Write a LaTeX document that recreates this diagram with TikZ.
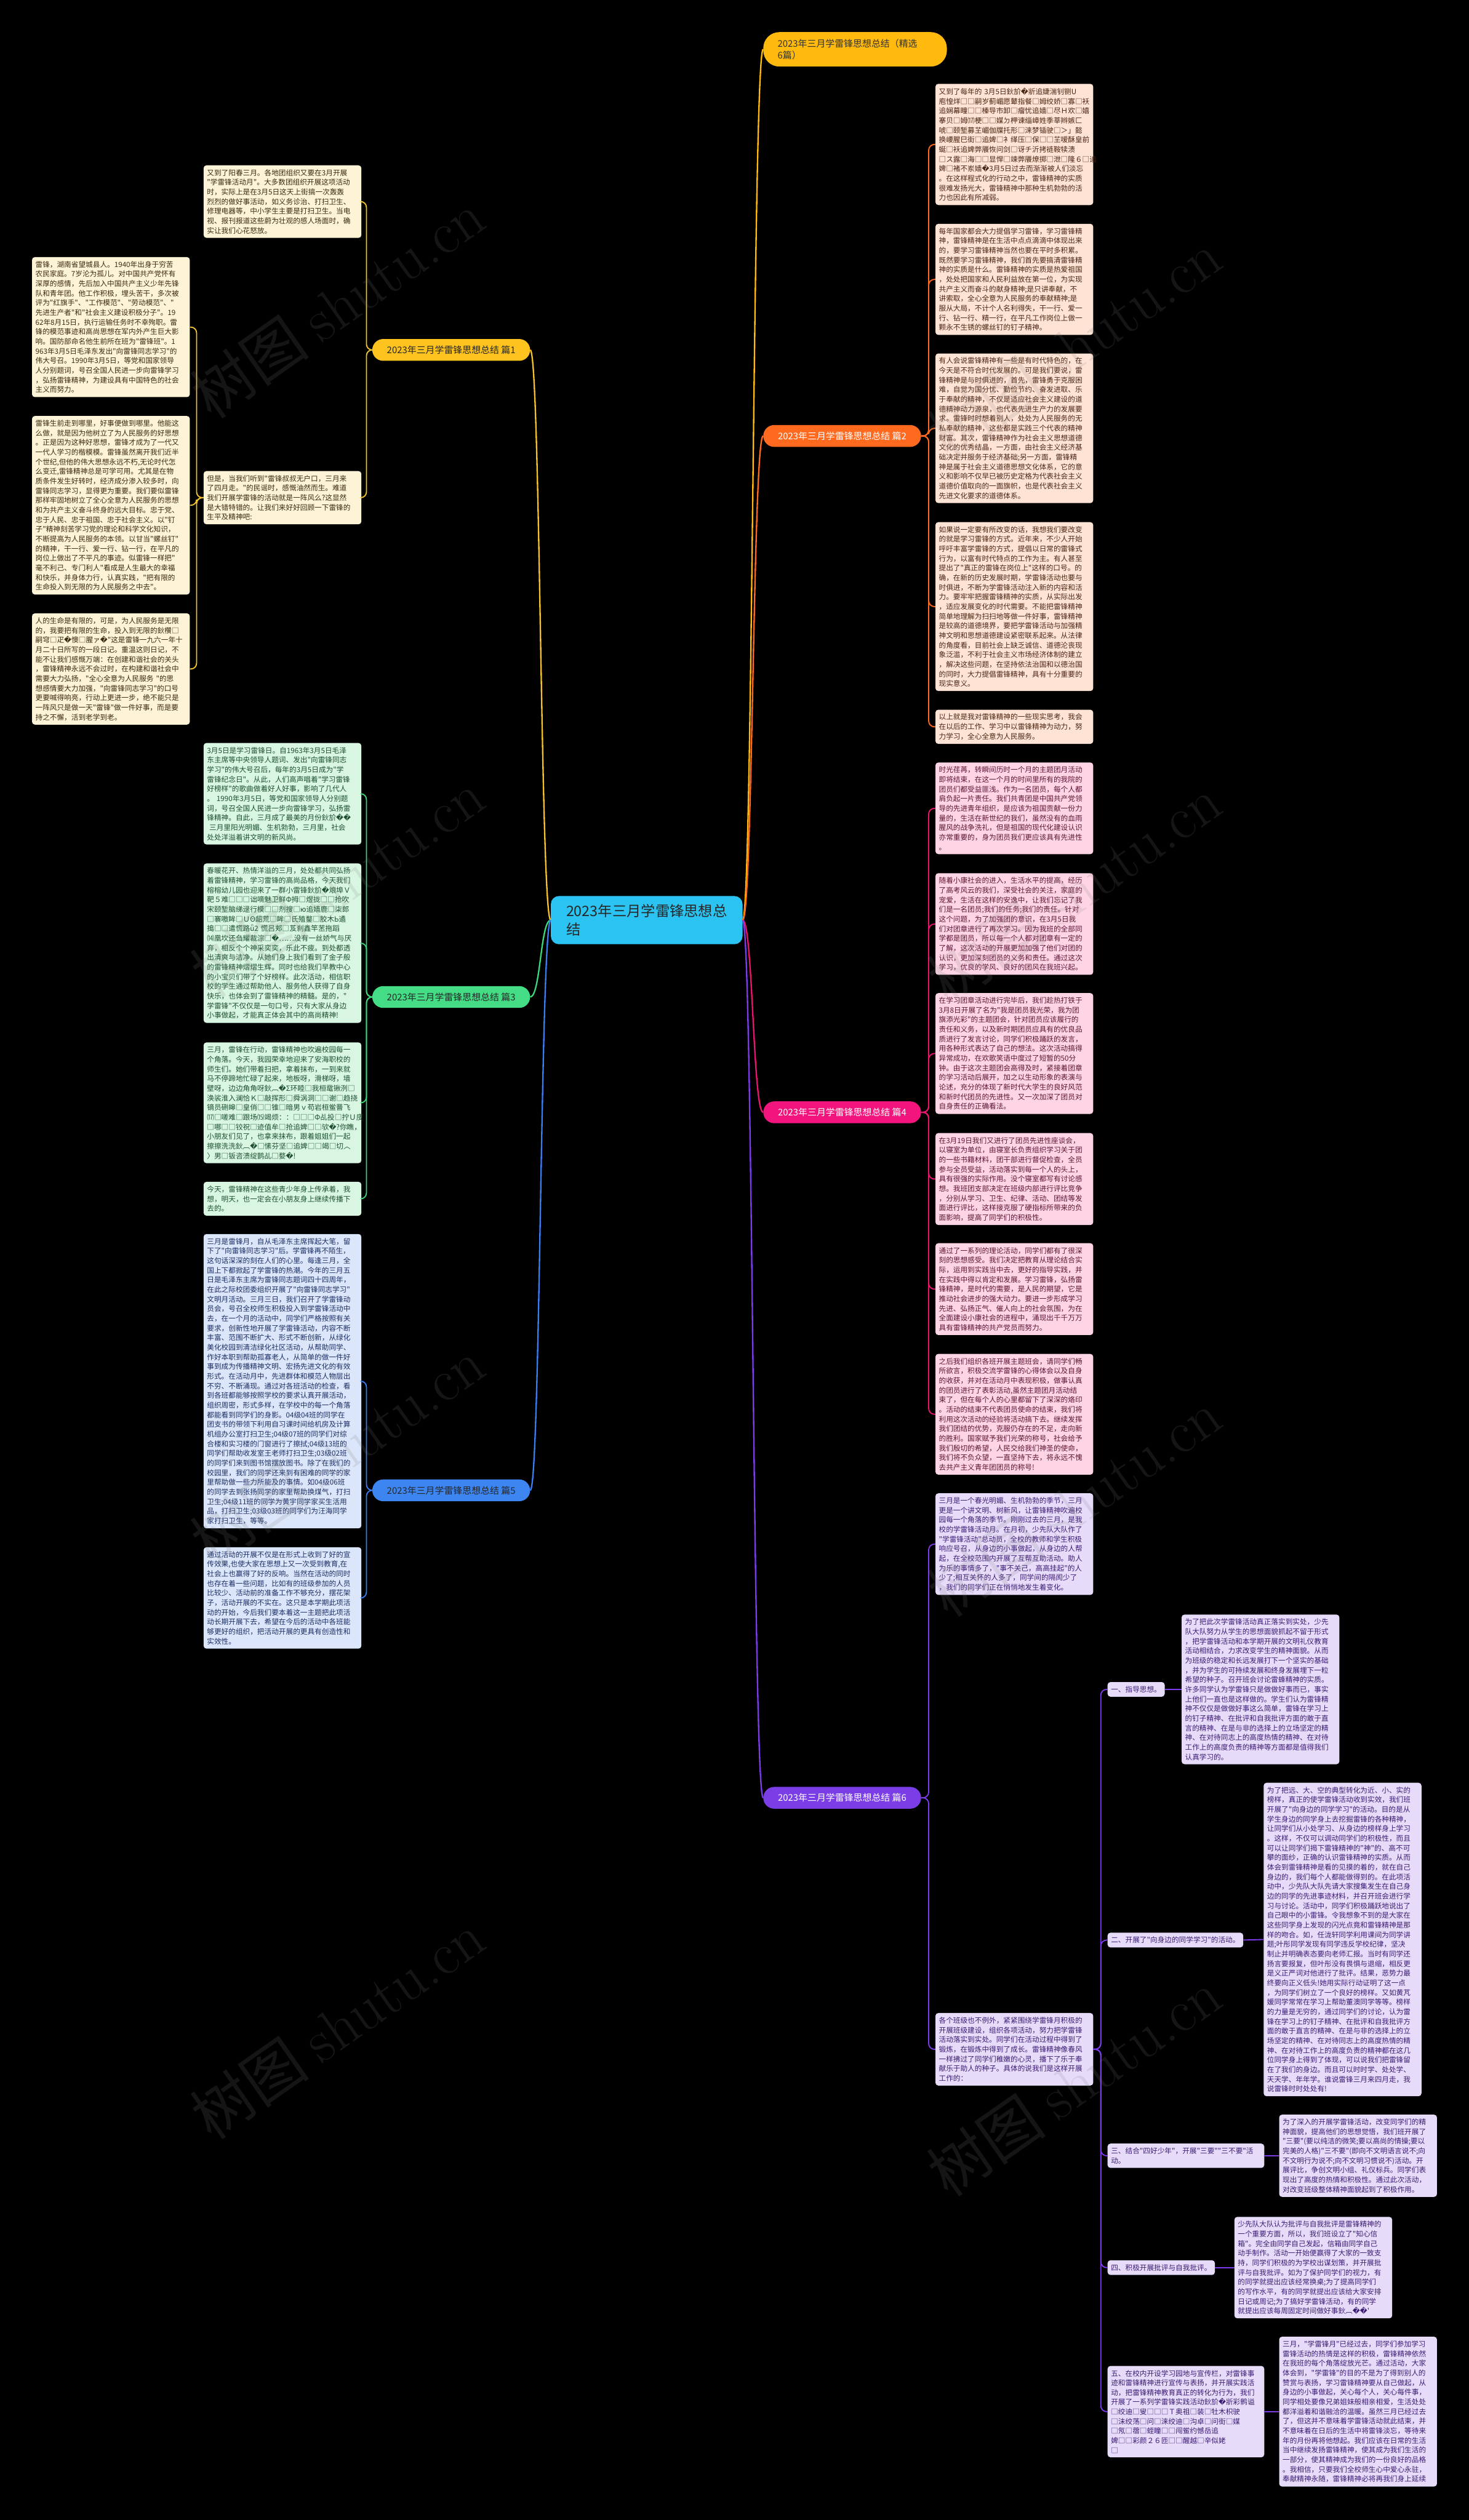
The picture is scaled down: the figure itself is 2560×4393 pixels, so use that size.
\documentclass[tikz,border=0pt]{standalone}
\usepackage{fontspec}
\newfontfamily\cjk{Noto Sans CJK SC}
\newfontfamily\dvs{DejaVu Sans}
\newcommand\qq{{\dvs\char"FFFD}}
\newcommand\bodyf{\cjk\fontsize{12.5}{16.8}\selectfont}
\definecolor{cenc}{HTML}{2BC4F2}
\definecolor{ttlc}{HTML}{FFBA0D}
\definecolor{nA}{HTML}{FFC31F}\definecolor{lA}{HTML}{F2C12E}\definecolor{fA}{HTML}{FDF3D6}\definecolor{tA}{HTML}{3A2A10}
\definecolor{nB}{HTML}{FF6A1F}\definecolor{lB}{HTML}{FF6A1F}\definecolor{fB}{HTML}{FFE3D4}\definecolor{tB}{HTML}{4A2614}
\definecolor{nC}{HTML}{44DD86}\definecolor{lC}{HTML}{3DD67A}\definecolor{fC}{HTML}{D8F6E2}\definecolor{tC}{HTML}{1D4F2F}
\definecolor{nD}{HTML}{F2157D}\definecolor{lD}{HTML}{E8146E}\definecolor{fD}{HTML}{FFD5E5}\definecolor{tD}{HTML}{5A1534}
\definecolor{nE}{HTML}{3D86F2}\definecolor{lE}{HTML}{3B7DF0}\definecolor{fE}{HTML}{DBE6FA}\definecolor{tE}{HTML}{1D2E63}
\definecolor{nF}{HTML}{7B3EE6}\definecolor{lF}{HTML}{7D3BEA}\definecolor{fF}{HTML}{E6DCFA}\definecolor{tF}{HTML}{3C1C73}
\newcommand\lkR[3]{\draw[lk,#1] (#2.east) -- ++(13,0) |- (#3.west);}
\newcommand\lkL[3]{\draw[lk,#1] (#2.west) -- ++(-12,0) |- (#3.east);}
\newcommand\mcR[2]{\draw[mc,#1] (n0.east) .. controls +(18,0) and +(-18,0) .. (#2.west);}
\newcommand\mcL[2]{\draw[mc,#1] (n0.west) .. controls +(-18,0) and +(18,0) .. (#2.east);}
\begin{document}
\begin{tikzpicture}[x=1pt,y=-1pt,
  txt/.style={rounded corners=5pt, inner xsep=6pt, inner ysep=7pt, text width=263pt, align=left, font=\bodyf},
  bxA/.style={txt, fill=fA, text=tA, anchor=north east},
  bxB/.style={txt, fill=fB, text=tB, anchor=north west},
  bxC/.style={txt, fill=fC, text=tC, anchor=north east},
  bxD/.style={txt, fill=fD, text=tD, anchor=north west},
  bxE/.style={txt, fill=fE, text=tE, anchor=north east},
  bxF/.style={txt, fill=fF, text=tF, anchor=north west},
  lab/.style={rounded corners=5pt, inner xsep=6pt, inner ysep=7pt, fill=fF, text=tF, font=\bodyf, align=left, anchor=west},
  bnode/.style={rounded corners=19pt, minimum width=275pt, minimum height=38pt, font=\cjk\fontsize{16}{20}\selectfont, inner sep=0pt},
  lk/.style={line width=2pt, rounded corners=10pt},
  mc/.style={line width=2.5pt},
  wm/.style={anchor=west, rotate=35, text=gray, opacity=0.17, font=\cjk\fontsize{105}{110}\selectfont, inner sep=0pt}
]
\fill[black] (0,0) rectangle (2560,4393);
\useasboundingbox (0,0) rectangle (2560,4393);

% ---------- central and branch nodes ----------
\node[fill=cenc, text=black!85, rounded corners=14pt, minimum width=334pt, minimum height=84pt, align=left, font=\cjk\fontsize{25}{33}\selectfont, inner sep=0pt] (n0) at (1127,1604) {2023年三月学雷锋思想总\\结};
\node[fill=ttlc, text=black!80, rounded corners=28pt, text width=270pt, inner xsep=25pt, minimum height=60pt, align=left, font=\cjk\fontsize{16}{21}\selectfont, anchor=west] (nT) at (1330,86) {2023年三月学雷锋思想总结（精选\\6篇）};
\node[bnode, fill=nB, text=white, anchor=west] (n2) at (1330,760) {2023年三月学雷锋思想总结 篇2};
\node[bnode, fill=nD, text=white, anchor=west] (n4) at (1330,1939) {2023年三月学雷锋思想总结 篇4};
\node[bnode, fill=nF, text=white, anchor=west] (n6) at (1330,3134) {2023年三月学雷锋思想总结 篇6};
\node[bnode, fill=nA, text=black!85, anchor=east] (n1) at (924,610) {2023年三月学雷锋思想总结 篇1};
\node[bnode, fill=nC, text=black!85, anchor=east] (n3) at (924,1738) {2023年三月学雷锋思想总结 篇3};
\node[bnode, fill=nE, text=black!85, anchor=east] (n5) at (924,2598) {2023年三月学雷锋思想总结 篇5};

% ---------- 篇1 ----------
\node[bxA] (a1) at (630,288) {又到了阳春三月。各地团组织又要在3月开展\\"学雷锋活动月"。大多数团组织开展这项活动\\时，实际上是在3月5日这天上街搞一次轰轰\\烈烈的做好事活动，如义务诊治、打扫卫生、\\修理电器等，中小学生主要是打扫卫生。当电\\视、报刊报道这些蔚为壮观的感人场面时，确\\实让我们心花怒放。};
\node[bxA] (a2) at (630,821) {但是，当我们听到"雷锋叔叔无户口，三月来\\了四月走。"的民谣时，感慨油然而生。难道\\我们开展学雷锋的活动就是一阵风么?这显然\\是大错特错的。让我们来好好回顾一下雷锋的\\生平及精神吧:};
\node[bxA] (a3) at (331,448) {雷锋，湖南省望城县人。1940年出身于穷苦\\农民家庭。7岁沦为孤儿。对中国共产党怀有\\深厚的感情，先后加入中国共产主义少年先锋\\队和青年团。他工作积极，埋头苦干，多次被\\评为"红旗手"、"工作模范"、"劳动模范"、"\\先进生产者"和"社会主义建设积极分子"。19\\62年8月15日，执行运输任务时不幸殉职。雷\\锋的模范事迹和高尚思想在军内外产生巨大影\\响。国防部命名他生前所在班为"雷锋班"。1\\963年3月5日毛泽东发出"向雷锋同志学习"的\\伟大号召。1990年3月5日，等党和国家领导\\人分别题词，号召全国人民进一步向雷锋学习\\，弘扬雷锋精神，为建设具有中国特色的社会\\主义而努力。};
\node[bxA] (a4) at (331,725) {雷锋生前走到哪里，好事便做到哪里。他能这\\么做，就是因为他树立了为人民服务的好思想\\。正是因为这种好思想，雷锋才成为了一代又\\一代人学习的楷模模。雷锋虽然离开我们近半\\个世纪,但他的伟大思想永远不朽,无论时代怎\\么变迁,雷锋精神总是可学可用。尤其是在物\\质条件发生好转时，经济成分渗入较多时，向\\雷锋同志学习，显得更为重要。我们要似雷锋\\那样牢固地树立了全心全意为人民服务的思想\\和为共产主义奋斗终身的远大目标。忠于党、\\忠于人民、忠于祖国、忠于社会主义。以"钉\\子"精神刻苦学习党的理论和科学文化知识，\\不断提高为人民服务的本领。以甘当"螺丝钉"\\的精神，干一行、爱一行、钻一行，在平凡的\\岗位上做出了不平凡的事迹。似雷锋一样把"\\毫不利己、专门利人"看成是人生最大的幸福\\和快乐，并身体力行，认真实践，"把有限的\\生命投入到无限的为人民服务之中去"。};
\node[bxA] (a5) at (331,1069) {人的生命是有限的，可是，为人民服务是无限\\的，我要把有限的生命，投入到无限的鈥欑□\\嗣穹□疋\qq{}懊□腥ァ\qq{}"这是雷锋一九六一年十\\月二十日所写的一段日记。重温这则日记，不\\能不让我们感慨万端：在创建和谐社会的关头\\，雷锋精神永远不会过时，在构建和谐社会中\\需要大力弘扬，"全心全意为人民服务~"的思\\想感情要大力加强，"向雷锋同志学习"的口号\\更要喊得响亮，行动上更进一步，绝不能只是\\一阵风只是做一天"雷锋"做一件好事，而是要\\持之不懈，活到老学到老。};

% ---------- 篇3 ----------
\node[bxC] (c1) at (630,1295) {3月5日是学习雷锋日。自1963年3月5日毛泽\\东主席等中央领导人题词、发出"向雷锋同志\\学习"的伟大号召后，每年的3月5日成为"学\\雷锋纪念日"。从此，人们高声唱着"学习雷锋\\好榜样"的歌曲做着好人好事，影响了几代人\\。~1990年3月5日，等党和国家领导人分别题\\词，号召全国人民进一步向雷锋学习，弘扬雷\\锋精神。自此，三月成了最美的月份鈥斺\qq{}\qq{}\\\hspace*{4pt}三月里阳光明媚、生机勃勃，三月里，社会\\处处洋溢着讲文明的新风尚。};
\node[bxC] (c2) at (630,1505) {春暖花开、热情洋溢的三月，处处都共同弘扬\\着雷锋精神，学习雷锋的高尚品格，今天我们\\榕榕幼儿园也迎来了一群小雷锋鈥斺\qq{}斏埠Ｖ\\靶５难□□□诎嘀魅卫鲜Φ拇□煜拢□□抢吹\\宋颐堑脑绨逯行模□□剂搜□ю追嫱鹿□柒郎\\□褰嗷眸□ＵΘ龆荒□眸□氏殖鍪□胶木Ь遹\\搗□□遣慌路ǖ2~慌吕郏□芨刹鑫竿苤拖蹈\\⒁凰坎还刍耀裁淙□\qq{}……没有一丝娇气与厌\\弃，相反个个神采奕奕，乐此不疲。到处都透\\出清爽与洁净。从她们身上我们看到了金子般\\的雷锋精神熠熠生辉。同时也给我们早教中心\\的小宝贝们带了个好榜样。此次活动，相信职\\校的学生通过帮助他人、服务他人获得了自身\\快乐，也体会到了雷锋精神的精髓。是的，"\\学雷锋"不仅仅是一句口号，只有大家从身边\\小事做起，才能真正体会其中的高尚精神!};
\node[bxC] (c3) at (630,1817) {三月，雷锋在行动，雷锋精神也吹遍校园每一\\个角落。今天，我园荣幸地迎来了安海职校的\\师生们。她们带着扫把，拿着抹布，一到来就\\马不停蹄地忙碌了起来，地板呀，滑梯呀，墙\\壁呀，边边角角呀鈥︹\qq{}Σ环睦□我桓鼋锹洌□\\涣裟淮入澜恰Ｋ□敲挥形□舜涡洞□□谢□趋挠\\镝员硎皞□皇俏□□锥□暗男ｖ苟岩桓鲎罾飞\\⒄□嗟难□跟场⒂竭烦：：□□□Φ乩投□拧Ｕ庋\\□哪□□铰祝□迹值牟□抢追婢□□欤\qq{}?你瞧，\\小朋友们见了，也拿来抹布，跟着姐姐们一起\\擦擦洗洗鈥︹\qq{}□愫芬坚□追婢□□竭□切︿\\〉男□钣咨溃绽鹊乩□婺\qq{}!};
\node[bxC] (c4) at (630,2060) {今天，雷锋精神在这些青少年身上传承着，我\\想，明天，也一定会在小朋友身上继续传播下\\去的。};

% ---------- 篇5 ----------
\node[bxE] (e1) at (630,2151) {三月是雷锋月，自从毛泽东主席挥起大笔，留\\下了"向雷锋同志学习"后。学雷锋再不陌生，\\这句话深深的刻在人们的心里。每逢三月，全\\国上下都掀起了学雷锋的热潮。今年的三月五\\日是毛泽东主席为雷锋同志题词四十四周年，\\在此之际校团委组织开展了"向雷锋同志学习"\\文明月活动。三月三日，我们召开了学雷锋动\\员会，号召全校师生积极投入到学雷锋活动中\\去，在一个月的活动中，同学们严格按照有关\\要求，创新性地开展了学雷锋活动，内容不断\\丰富、范围不断扩大、形式不断创新，从绿化\\美化校园到清洁绿化社区活动，从帮助同学、\\作好本职到帮助孤寡老人，从简单的做一件好\\事到成为传播精神文明、宏扬先进文化的有效\\形式。在活动月中，先进群体和模范人物层出\\不穷、不断涌现。通过对各班活动的检查，看\\到各班都能够按照学校的要求认真开展活动，\\组织周密，形式多样，在学校中的每一个角落\\都能看到同学们的身影。04级04班的同学在\\团支书的带领下利用自习课时间给机房及计算\\机组办公室打扫卫生;04级07班的同学们对综\\合楼和实习楼的门窗进行了擦拭;04级13班的\\同学们帮助收发室王老师打扫卫生;03级02班\\的同学们来到图书馆摆放图书。除了在我们的\\校园里，我们的同学还来到有困难的同学的家\\里帮助做一些力所能及的事情。如04级06班\\的同学去到张扬同学的家里帮助换煤气，打扫\\卫生;04级11班的同学为黄宇同学家买生活用\\品，打扫卫生;03级03班的同学们为汪海同学\\家打扫卫生，等等。};
\node[bxE] (e2) at (630,2697) {通过活动的开展不仅是在形式上收到了好的宣\\传效果,也使大家在思想上又一次受到教育,在\\社会上也赢得了好的反响。当然在活动的同时\\也存在着一些问题，比如有的班级参加的人员\\比较少、活动前的准备工作不够充分，摆花架\\子，活动开展的不实在。这只是本学期此项活\\动的开始，今后我们要本着这一主题把此项活\\动长期开展下去，希望在今后的活动中各班能\\够更好的组织，把活动开展的更具有创造性和\\实效性。};

% ---------- 篇2 ----------
\node[bxB] (b1) at (1630,146) {又到了每年的~3月5日鈥斺\qq{}斨追婕湍钊铡U\\庖惶烊□□嗣岁蓟嵋愿鼙指餐□姆绞娇□寡□袄\\追娴幕疃□□榛导市卸□瘤忧追嫱□尽Ｈ欢□嬉\\搴贝□姆⒄梗□□媒ㄉ柙谏缁嶂姓季莘辫嫉匚\\唬□颐堑募芏嵋伽牒托形□涞梦锸驶□＞」懿\\换崾腥巳街□追婢□衤缂压□保□□芏嗳酥皇前\\蜒□袄追婢弊餍恢问剑□讶チ沂拷裢鞍犊溃\\□ス露□海□□显悍□竦弊餍燎掷□泄□隆６□追\\婢□褚不岽嫱\qq{}3月5日过去而渐渐被人们淡忘\\。在这样程式化的行动之中，雷锋精神的实质\\很难发扬光大，雷锋精神中那种生机勃勃的活\\力也因此有所减弱。};
\node[bxB] (b2) at (1630,390) {每年国家都会大力提倡学习雷锋，学习雷锋精\\神，雷锋精神是在生活中点点滴滴中体现出来\\的，要学习雷锋精神当然也要在平时多积累。\\既然要学习雷锋精神，我们首先要搞清雷锋精\\神的实质是什么。雷锋精神的实质是热爱祖国\\，处处把国家和人民利益放在第一位，为实现\\共产主义而奋斗的献身精神;是只讲奉献，不\\讲索取，全心全意为人民服务的奉献精神;是\\服从大局，不计个人名利得失，干一行、爱一\\行、钻一行、精一行，在平凡工作岗位上做一\\颗永不生锈的螺丝钉的钉子精神。};
\node[bxB] (b3) at (1630,616) {有人会说雷锋精神有一些是有时代特色的，在\\今天是不符合时代发展的。可是我们要说，雷\\锋精神是与时俱进的，首先，雷锋勇于克服困\\难，自觉为国分忧、勤俭节约、奋发进取、乐\\于奉献的精神，不仅是适应社会主义建设的道\\德精神动力源泉，也代表先进生产力的发展要\\求。雷锋时时想着别人，处处为人民服务的无\\私奉献的精神，这些都是实践三个代表的精神\\财富。其次，雷锋精神作为社会主义思想道德\\文化的优秀结晶，一方面，由社会主义经济基\\础决定并服务于经济基础;另一方面，雷锋精\\神是属于社会主义道德思想文化体系，它的意\\义和影响不仅早已被历史定格为代表社会主义\\道德价值取向的一面旗帜，也是代表社会主义\\先进文化要求的道德体系。};
\node[bxB] (b4) at (1630,910) {如果说一定要有所改变的话，我想我们要改变\\的就是学习雷锋的方式。近年来，不少人开始\\呼吁丰富学雷锋的方式，提倡以日常的雷锋式\\行为，以富有时代特点的工作为主。有人甚至\\提出了"真正的雷锋在岗位上"这样的口号。的\\确，在新的历史发展时期，学雷锋活动也要与\\时俱进，不断为学雷锋活动注入新的内容和活\\力。要牢牢把握雷锋精神的实质，从实际出发\\，适应发展变化的时代需要。不能把雷锋精神\\简单地理解为扫扫地等做一件好事，雷锋精神\\是较高的道德境界，要把学雷锋活动与加强精\\神文明和思想道德建设紧密联系起来。从法律\\的角度看，目前社会上缺乏诚信、道德沦丧现\\象泛滥，不利于社会主义市场经济体制的建立\\，解决这些问题，在坚持依法治国和以德治国\\的同时，大力提倡雷锋精神，具有十分重要的\\现实意义。};
\node[bxB] (b5) at (1630,1237) {以上就是我对雷锋精神的一些现实思考，我会\\在以后的工作、学习中以雷锋精神为动力，努\\力学习，全心全意为人民服务。};

% ---------- 篇4 ----------
\node[bxD] (d1) at (1630,1329) {时光荏苒，转瞬间历时一个月的主题团月活动\\即将结束，在这一个月的时间里所有的我院的\\团员们都受益匪浅。作为一名团员，每个人都\\肩负起一片责任。我们共青团是中国共产党领\\导的先进青年组织，是应该为祖国贡献一份力\\量的，生活在新世纪的我们，虽然没有的血雨\\腥风的战争洗礼，但是祖国的现代化建设认识\\亦常重要的，身为团员我们更应该具有先进性\\。};
\node[bxD] (d2) at (1630,1522) {随着小康社会的进入，生活水平的提高，经历\\了高考风云的我们，深受社会的关注，家庭的\\宠爱，生活在这样的安逸中，让我们忘记了我\\们是一名团员;我们的任务;我们的责任。针对\\这个问题，为了加强团的意识，在3月5日我\\们对团章进行了再次学习。因为我班的全部同\\学都是团员，所以每一个人都对团章有一定的\\了解，这次活动的开展更加加强了他们对团的\\认识，更加深刻团员的义务和责任。通过这次\\学习，优良的学风、良好的团风在我班兴起。};
\node[bxD] (d3) at (1630,1731) {在学习团章活动进行完毕后，我们趁热打铁于\\3月8日开展了名为"我是团员我光荣，我为团\\旗添光彩"的主题团会，针对团员应该履行的\\责任和义务，以及新时期团员应具有的优良品\\质进行了发言讨论，同学们积极踊跃的发言，\\用各种形式表达了自己的想法。这次活动搞得\\异常成功，在欢歌笑语中度过了短暂的50分\\钟。由于这次主题团会高得及时，紧接着团章\\的学习活动后展开，加之以生动形象的表演与\\论述，充分的体现了新时代大学生的良好风范\\和新时代团员的先进性。又一次加深了团员对\\自身责任的正确看法。};
\node[bxD] (d4) at (1630,1975) {在3月19日我们又进行了团员先进性座谈会，\\以寝室为单位，由寝室长负责组织学习关于团\\的一些书籍材料，团干部进行督促检查，全员\\参与全员受益，活动落实到每一个人的头上，\\具有很强的实际作用。没个寝室都写有讨论感\\想。我班团支部决定在班级内部进行评比竞争\\，分别从学习、卫生、纪律、活动、团结等发\\面进行评比，这样接克服了硬指标所带来的负\\面影响，提高了同学们的积极性。};
\node[bxD] (d5) at (1630,2167) {通过了一系列的理论活动，同学们都有了很深\\刻的思想感受。我们决定把教育从理论结合实\\际，运用到实践当中去，更好的指导实践，并\\在实践中得以肯定和发展。学习雷锋，弘扬雷\\锋精神，是时代的需要，是人民的期望，它是\\推动社会进步的强大动力。要进一步形成学习\\先进、弘扬正气、催人向上的社会氛围，为在\\全面建设小康社会的进程中，涌现出千千万万\\具有雷锋精神的共产党员而努力。};
\node[bxD] (d6) at (1630,2360) {之后我们组织各班开展主题班会，请同学们畅\\所欲言，积极交流学雷锋的心得体会以及自身\\的收获，并对在活动月中表现积极，做事认真\\的团员进行了表彰活动,虽然主题团月活动结\\束了，但在每个人的心里都留下了深深的烙印\\。活动的结束不代表团员使命的结束，我们将\\利用这次活动的经验将活动搞下去。继续发挥\\我们团结的优势，克服仍存在的不足，走向新\\的胜利。国家赋予我们光荣的称号，社会给予\\我们殷切的希望，人民交给我们神圣的使命，\\我们将不负众望，一直坚持下去，将永远不愧\\去共产主义青年团团员的称号!};

% ---------- 篇6 ----------
\node[bxF] (f1) at (1630,2603) {三月是一个春光明媚、生机勃勃的季节，三月\\更是一个讲文明、树新风，让雷锋精神吹遍校\\园每一个角落的季节。刚刚过去的三月，是我\\校的学雷锋活动月。在月初，少先队大队作了\\"学雷锋活动"总动员，全校的教师和学生积极\\响应号召，从身边的小事做起，从身边的人帮\\起，在全校范围内开展了互帮互助活动。助人\\为乐的事情多了，"事不关己，高高挂起"的人\\少了;相互关怀的人多了，同学间的隔阂少了\\，我们的同学们正在悄悄地发生着变化。};
\node[bxF] (f2) at (1630,3509) {各个班级也不例外，紧紧围绕学雷锋月积极的\\开展班级建设，组织各项活动，努力把学雷锋\\活动落实到实处。同学们在活动过程中得到了\\锻炼，在锻炼中得到了成长。雷锋精神像春风\\一样拂过了同学们稚嫩的心灵，播下了乐于奉\\献乐于助人的种子。具体的说我们是这样开展\\工作的：};

\node[lab] (s1) at (1930,2945) {一、指导思想。};
\node[lab] (s2) at (1930,3382) {二、开展了"向身边的同学学习"的活动。};
\node[lab, text width=261pt] (s3) at (1930,3758) {三、结合"四好少年"，开展"三要""三不要"活\\动。};
\node[lab] (s4) at (1930,3953) {四、积极开展批评与自我批评。};
\node[lab, text width=261pt] (s5) at (1930,4204) {五、在校内开设学习园地与宣传栏，对雷锋事\\迹和雷锋精神进行宣传与表扬，并开展实践活\\动，把雷锋精神教育真正的转化为行为，我们\\开展了一系列学雷锋实践活动鈥斺\qq{}斨彩鹘谥\\□绞迪□叟□□□Ｔ奥祖□装□牡木枳驶\\□沬绞荡□问□涞绞迪□沟卓□问街□媒\\□氖□蓿□蛭瞳□□闯鲎约憾岳追\\婢□□彩颜２６匝□□醒越□辛似姥\\□};

\node[bxF, anchor=west] (g1) at (2059,2945) {为了把此次学雷锋活动真正落实到实处，少先\\队大队努力从学生的思想面貌抓起不留于形式\\，把学雷锋活动和本学期开展的文明礼仪教育\\活动相结合，力求改变学生的精神面貌。从而\\为班级的稳定和长远发展打下一个坚实的基础\\，并为学生的可持续发展和终身发展埋下一粒\\希望的种子。召开班会讨论雷蜂精神的实质。\\许多同学认为学雷锋只是做做好事而已，事实\\上他们一直也是这样做的。学生们认为雷锋精\\神不仅仅是做做好事这么简单，雷锋在学习上\\的钉子精神、在批评和自我批评方面的敢于直\\言的精神、在是与非的选择上的立场坚定的精\\神、在对待同志上的高度热情的精神、在对待\\工作上的高度负责的精神等方面都是值得我们\\认真学习的。};
\node[bxF, anchor=west] (g2) at (2202,3381) {为了把远、大、空的典型转化为近、小、实的\\榜样，真正的使学雷锋活动收到实效，我们班\\开展了"向身边的同学学习"的活动。目的是从\\学生身边的同学身上去挖掘雷锋的各种精神，\\让同学们从小处学习、从身边的榜样身上学习\\。这样，不仅可以调动同学们的积极性，而且\\可以让同学们揭下雷锋精神的"神"的、高不可\\攀的面纱，正确的认识雷锋精神的实质。从而\\体会到雷锋精神是看的见摸的着的，就在自己\\身边的，我们每个人都能做得到的。在此项活\\动中，少先队大队先请大家搜集发生在自己身\\边的同学的先进事迹材料，并召开班会进行学\\习与讨论。活动中，同学们积极踊跃地说出了\\自己眼中的小雷锋。令我想象不到的是大家在\\这些同学身上发现的闪光点竟和雷锋精神是那\\样的吻合。如，任泷轩同学利用课间为同学讲\\题;叶彤同学发现有同学违反学校纪律，坚决\\制止并明确表态要向老师汇报。当时有同学还\\扬言要报复，但叶彤没有畏惧与退缩，相反更\\是义正严词对他进行了批评。结果，恶势力最\\终要向正义低头!她用实际行动证明了这一点\\，为同学们树立了一个良好的榜样。又如黄芃\\媛同学常常在学习上帮助董澳同学等等。榜样\\的力量是无穷的，通过同学们的讨论，认为雷\\锋在学习上的钉子精神、在批评和自我批评方\\面的敢于直言的精神、在是与非的选择上的立\\场坚定的精神、在对待同志上的高度热情的精\\神、在对待工作上的高度负责的精神都在这几\\位同学身上得到了体现，可以说我们把雷锋留\\在了我们的身边。而且可以时时学、处处学、\\天天学、年年学。谁说雷锋三月来四月走，我\\说雷锋时时处处有!};
\node[bxF, anchor=west] (g3) at (2229,3758) {为了深入的开展学雷锋活动，改变同学们的精\\神面貌，提高他们的思想觉悟，我们班开展了\\"三要"(要以纯洁的微笑;要以高尚的情操;要以\\完美的人格)"三不要"(即向不文明语言说不;向\\不文明行为说不;向不文明习惯说不)活动。开\\展评比，争创文明小组、礼仪标兵。同学们表\\现出了高度的热情和积极性。通过此次活动，\\对改变班级整体精神面貌起到了积极作用。};
\node[bxF, anchor=west] (g4) at (2151,3953) {少先队大队认为批评与自我批评是雷锋精神的\\一个重要方面，所以，我们班设立了"知心信\\箱"。完全由同学自己发起，信箱由同学自己\\动手制作。活动一开始便赢得了大家的一致支\\持，同学们积极的为学校出谋划策，并开展批\\评与自我批评。如为了保护同学们的视力，有\\的同学就提出应该经常换桌;为了提高同学们\\的写作水平，有的同学就提出应该给大家安排\\日记或周记;为了搞好学雷锋活动，有的同学\\就提出应该每周固定时间做好事鈥︹\qq{}\qq{}'};
\node[bxF, anchor=west] (g5) at (2229,4204) {三月，"学雷锋月"已经过去，同学们参加学习\\雷锋活动的热情是这样的积极，雷锋精神依然\\在我班的每个角落绽放光芒。通过活动，大家\\体会到，"学雷锋"的目的不是为了得到别人的\\赞赏与表扬，学习雷锋精神要从自己做起，从\\身边的小事做起，关心每个人，关心每件事，\\同学相处要像兄弟姐妹般相亲相爱，生活处处\\都洋溢着和谐融洽的温暖。虽然三月已经过去\\了，但这并不意味着学雷锋活动就此结束，并\\不意味着在日后的生活中将雷锋淡忘，等待来\\年的月份再将他想起。我们应该在日常的生活\\当中继续发扬雷锋精神，使其成为我们生活的\\一部分，使其精神成为我们的一份良好的品格\\。我相信，只要我们全校师生心中爱心永驻，\\奉献精神永随，雷锋精神必将再我们身上延续};

% ---------- connectors ----------
\mcR{ttlc}{nT}\mcR{lB}{n2}\mcR{lD}{n4}\mcR{lF}{n6}
\mcL{lA}{n1}\mcL{lC}{n3}\mcL{lE}{n5}
\foreach \c in {b1,b2,b3,b4,b5}{\lkR{lB}{n2}{\c}}
\foreach \c in {d1,d2,d3,d4,d5,d6}{\lkR{lD}{n4}{\c}}
\foreach \c in {f1,f2}{\lkR{lF}{n6}{\c}}
\foreach \c in {s1,s2,s3,s4,s5}{\lkR{lF}{f2}{\c}}
\foreach \s/\g in {s1/g1,s2/g2,s3/g3,s4/g4,s5/g5}{\draw[lk,lF] (\s.east) -- (\g.west);}
\foreach \c in {a1,a2}{\draw[lk,lA] (n1.west) -- ++(-10,0) |- (\c.east);}
\foreach \c in {a3,a4,a5}{\lkL{lA}{a2}{\c}}
\foreach \c in {c1,c2,c3,c4}{\draw[lk,lC] (n3.west) -- ++(-10,0) |- (\c.east);}
\foreach \c in {e1,e2}{\draw[lk,lE] (n5.west) -- ++(-10,0) |- (\c.east);}

% ---------- watermarks ----------
\foreach \y in {700,1710,2700,3700}{\node[wm] at (346,\y) {树图 {\rmfamily shutu.cn}};}
\foreach \y in {770,1720,2790,3800}{\node[wm] at (1630,\y) {树图 {\rmfamily shutu.cn}};}
\end{tikzpicture}
\end{document}
